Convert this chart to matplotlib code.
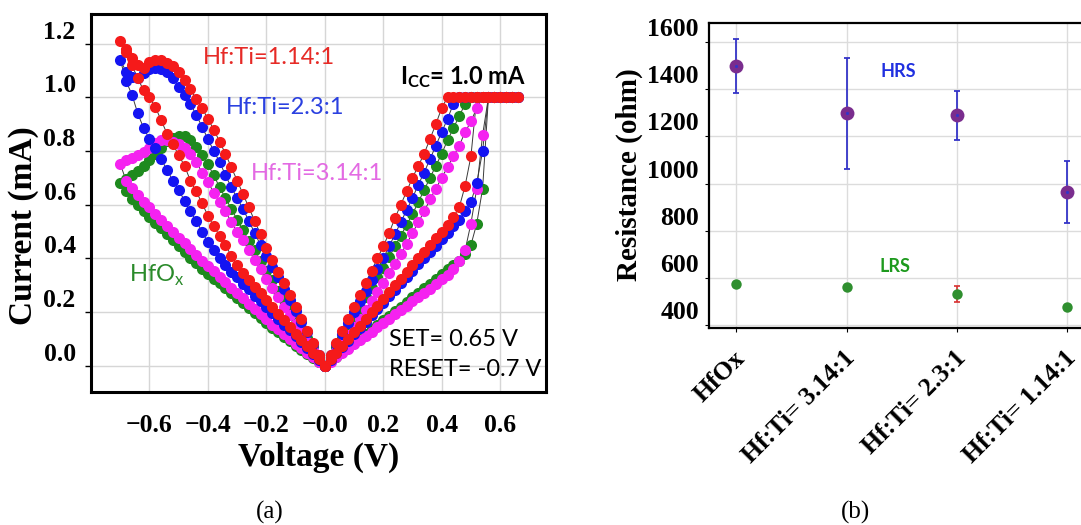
import matplotlib
matplotlib.use('Agg')
import matplotlib.pyplot as plt
import matplotlib.transforms as mtransforms

plt.rcParams['font.family'] = ['Liberation Serif', 'DejaVu Sans']

# ---------------- panel (a): I-V sweeps ----------------
# sweep voltages (V): 0 -> +0.66 -> 0 -> -0.70 -> 0
v_fwd_pos = [0.00, 0.02, 0.04, 0.06, 0.08, 0.10, 0.12, 0.14, 0.16, 0.18, 0.20, 0.22,
             0.24, 0.26, 0.28, 0.30, 0.32, 0.34, 0.36, 0.38, 0.40, 0.42, 0.44, 0.46,
             0.48, 0.50, 0.52, 0.54, 0.56, 0.58, 0.60, 0.62, 0.64, 0.66]
v_bwd_pos = [0.64, 0.62, 0.60, 0.58, 0.56, 0.54, 0.52, 0.50, 0.48, 0.46, 0.44, 0.42,
             0.40, 0.38, 0.36, 0.34, 0.32, 0.30, 0.28, 0.26, 0.24, 0.22, 0.20, 0.18,
             0.16, 0.14, 0.12, 0.10, 0.08, 0.06, 0.04, 0.02, 0.00]
v_fwd_neg = [-0.02, -0.04, -0.06, -0.08, -0.10, -0.12, -0.14, -0.16, -0.18, -0.20,
             -0.22, -0.24, -0.26, -0.28, -0.30, -0.32, -0.34, -0.36, -0.38, -0.40,
             -0.42, -0.44, -0.46, -0.48, -0.50, -0.52, -0.54, -0.56, -0.58, -0.60,
             -0.62, -0.64, -0.66, -0.68, -0.70]
v_bwd_neg = [-0.68, -0.66, -0.64, -0.62, -0.60, -0.58, -0.56, -0.54, -0.52, -0.50,
             -0.48, -0.46, -0.44, -0.42, -0.40, -0.38, -0.36, -0.34, -0.32, -0.30,
             -0.28, -0.26, -0.24, -0.22, -0.20, -0.18, -0.16, -0.14, -0.12, -0.10,
             -0.08, -0.06, -0.04, -0.02, 0.00]

# currents (mA, absolute value)
# HfOx (green)
g_fwd_pos = [0, 0.017, 0.034, 0.051, 0.068, 0.085, 0.102, 0.119, 0.136, 0.153, 0.17,
             0.187, 0.204, 0.221, 0.238, 0.255, 0.272, 0.289, 0.306, 0.324, 0.342,
             0.36, 0.375, 0.392, 0.415, 0.45, 0.53, 0.66, 1.0, 1.0, 1.0, 1.0, 1.0, 1.0]
g_bwd_pos = [1.0, 1.0, 1.0, 1.0, 1.0, 1.0, 1.0, 1.0, 0.975, 0.93, 0.885, 0.84, 0.79,
             0.745, 0.70, 0.655, 0.61, 0.565, 0.525, 0.485, 0.445, 0.405, 0.365, 0.33,
             0.29, 0.255, 0.215, 0.18, 0.145, 0.105, 0.07, 0.035, 0.0]
g_fwd_neg = [0.035, 0.07, 0.105, 0.14, 0.175, 0.21, 0.245, 0.28, 0.32, 0.355,
             0.39, 0.43, 0.465, 0.505, 0.545, 0.585, 0.625, 0.665, 0.71, 0.75,
             0.785, 0.815, 0.84, 0.855, 0.855, 0.85, 0.838, 0.81, 0.79, 0.768,
             0.745, 0.725, 0.71, 0.695, 0.68]
g_bwd_neg = [0.65, 0.62, 0.598, 0.575, 0.553, 0.533, 0.512, 0.49, 0.468, 0.446,
             0.424, 0.402, 0.382, 0.362, 0.343, 0.325, 0.307, 0.289, 0.27, 0.252,
             0.234, 0.216, 0.196, 0.177, 0.16, 0.142, 0.125, 0.108, 0.092, 0.076,
             0.06, 0.045, 0.03, 0.015, 0.0]
# Hf:Ti = 3.14:1 (magenta)
m_fwd_pos = [0, 0.016, 0.032, 0.048, 0.064, 0.08, 0.096, 0.112, 0.128, 0.144, 0.16,
             0.176, 0.192, 0.208, 0.224, 0.24, 0.256, 0.272, 0.288, 0.305, 0.322,
             0.34, 0.362, 0.39, 0.43, 0.53, 0.66, 0.86, 1.0, 1.0, 1.0, 1.0, 1.0, 1.0]
m_bwd_pos = [1.0, 1.0, 1.0, 1.0, 1.0, 1.0, 0.96, 0.91, 0.87, 0.82, 0.78, 0.74, 0.70,
             0.66, 0.62, 0.575, 0.535, 0.495, 0.455, 0.415, 0.38, 0.345, 0.31, 0.275,
             0.24, 0.21, 0.175, 0.145, 0.115, 0.085, 0.055, 0.03, 0.0]
m_fwd_neg = [0.03, 0.06, 0.09, 0.125, 0.155, 0.19, 0.22, 0.255, 0.29, 0.325,
             0.36, 0.395, 0.43, 0.468, 0.50, 0.536, 0.575, 0.61, 0.645, 0.685,
             0.72, 0.76, 0.79, 0.812, 0.826, 0.835, 0.84, 0.84, 0.83, 0.81,
             0.797, 0.787, 0.775, 0.765, 0.752]
m_bwd_neg = [0.69, 0.662, 0.636, 0.612, 0.59, 0.567, 0.545, 0.522, 0.50, 0.478,
             0.456, 0.434, 0.413, 0.392, 0.372, 0.352, 0.332, 0.312, 0.292, 0.272,
             0.252, 0.232, 0.212, 0.192, 0.173, 0.154, 0.136, 0.118, 0.10, 0.082,
             0.065, 0.048, 0.032, 0.016, 0.0]
# Hf:Ti = 2.3:1 (blue)
b_fwd_pos = [0, 0.024, 0.047, 0.071, 0.094, 0.118, 0.142, 0.165, 0.189, 0.212, 0.236,
             0.26, 0.283, 0.307, 0.33, 0.354, 0.378, 0.401, 0.425, 0.448, 0.472,
             0.495, 0.52, 0.545, 0.575, 0.61, 0.68, 0.80, 1.0, 1.0, 1.0, 1.0, 1.0, 1.0]
b_bwd_pos = [1.0, 1.0, 1.0, 1.0, 1.0, 1.0, 1.0, 1.0, 1.0, 1.0, 0.975, 0.92, 0.87,
             0.82, 0.77, 0.72, 0.675, 0.625, 0.58, 0.535, 0.49, 0.445, 0.40, 0.36,
             0.32, 0.28, 0.24, 0.20, 0.16, 0.12, 0.08, 0.04, 0.0]
b_fwd_neg = [0.04, 0.08, 0.125, 0.165, 0.205, 0.245, 0.285, 0.33, 0.37, 0.41,
             0.45, 0.495, 0.54, 0.585, 0.625, 0.665, 0.71, 0.76, 0.80, 0.845,
             0.89, 0.935, 0.975, 1.01, 1.04, 1.07, 1.095, 1.105, 1.11, 1.105,
             1.09, 1.07, 1.075, 1.095, 1.14]
b_bwd_neg = [1.06, 1.01, 0.94, 0.885, 0.845, 0.81, 0.77, 0.73, 0.69, 0.655,
             0.615, 0.575, 0.54, 0.50, 0.46, 0.43, 0.40, 0.375, 0.35, 0.33,
             0.305, 0.285, 0.262, 0.24, 0.22, 0.198, 0.176, 0.154, 0.132, 0.11,
             0.088, 0.066, 0.044, 0.022, 0.0]
# Hf:Ti = 1.14:1 (red)
r_fwd_pos = [0, 0.025, 0.05, 0.075, 0.10, 0.125, 0.15, 0.175, 0.20, 0.225, 0.25,
             0.275, 0.30, 0.325, 0.35, 0.375, 0.40, 0.425, 0.45, 0.475, 0.50,
             0.525, 0.555, 0.59, 0.67, 0.78, 1.0, 1.0, 1.0, 1.0, 1.0, 1.0, 1.0, 1.0]
r_bwd_pos = [1.0, 1.0, 1.0, 1.0, 1.0, 1.0, 1.0, 1.0, 1.0, 1.0, 1.0, 1.0, 0.96,
             0.90, 0.845, 0.79, 0.745, 0.70, 0.65, 0.60, 0.55, 0.495, 0.445, 0.40,
             0.355, 0.31, 0.265, 0.22, 0.175, 0.13, 0.085, 0.04, 0.0]
r_fwd_neg = [0.04, 0.085, 0.13, 0.175, 0.22, 0.265, 0.31, 0.35, 0.395, 0.44,
             0.49, 0.54, 0.59, 0.64, 0.69, 0.74, 0.79, 0.835, 0.88, 0.92,
             0.96, 0.995, 1.03, 1.065, 1.095, 1.115, 1.128, 1.138, 1.138, 1.13,
             1.11, 1.12, 1.145, 1.17, 1.21]
r_bwd_neg = [1.18, 1.12, 1.07, 1.026, 1.0, 0.964, 0.915, 0.865, 0.825, 0.785,
             0.745, 0.69, 0.65, 0.605, 0.56, 0.52, 0.485, 0.45, 0.41, 0.375,
             0.345, 0.32, 0.295, 0.27, 0.245, 0.22, 0.195, 0.17, 0.145, 0.12,
             0.095, 0.075, 0.05, 0.025, 0.0]

x_ticks_a = [-0.6, -0.4, -0.2, 0.0, 0.2, 0.4, 0.6]
x_labels_a = ['\u22120.6', '\u22120.4', '\u22120.2', '\u22120.0', '0.2', '0.4', '0.6']
y_ticks_a = [0.0, 0.2, 0.4, 0.6, 0.8, 1.0, 1.2]
y_labels_a = ['0.0', '0.2', '0.4', '0.6', '0.8', '1.0', '1.2']

# ---------------- panel (b): resistance ----------------
samples = ['HfOx', 'Hf:Ti= 3.14:1', 'Hf:Ti= 2.3:1', 'Hf:Ti= 1.14:1']
hrs = [1500, 1298, 1290, 964]
hrs_err = [114, 237, 103, 130]
lrs = [574, 562, 531, 475]
lrs_err = [0, 0, 35, 0]
y_ticks_b = [400, 600, 800, 1000, 1200, 1400, 1600]

fig = plt.figure(figsize=(10.81, 5.25), dpi=100)
ax1 = fig.add_axes([0.0842, 0.2533, 0.4209, 0.72])
ax2 = fig.add_axes([0.6562, 0.3747, 0.3559, 0.5821])


def shift(labels, dx_px, dy_px):
    off = mtransforms.ScaledTranslation(dx_px / 100.0, dy_px / 100.0, fig.dpi_scale_trans)
    for lab in labels:
        lab.set_transform(lab.get_transform() + off)


sweeps = [
    (g_fwd_pos, g_bwd_pos, g_fwd_neg, g_bwd_neg, '#1e8a1e'),
    (m_fwd_pos, m_bwd_pos, m_fwd_neg, m_bwd_neg, '#f522f0'),
    (b_fwd_pos, b_bwd_pos, b_fwd_neg, b_bwd_neg, '#1414f2'),
    (r_fwd_pos, r_bwd_pos, r_fwd_neg, r_bwd_neg, '#f51a1a'),
]
v_all = v_fwd_pos + v_bwd_pos + v_fwd_neg + v_bwd_neg
for fp, bp, fn, bn, col in sweeps:
    cur = fp + bp + fn + bn
    ax1.plot(v_all, cur, '-', color='#3a3a3a', lw=0.7, zorder=2)
    ax1.plot(v_all, cur, 'o', color=col, ms=8, mec='none', zorder=3)

ax1.set_xlim(-0.80, 0.757)
ax1.set_ylim(-0.097, 1.31)
ax1.set_xticks(x_ticks_a)
ax1.set_xticklabels(x_labels_a, fontsize=18.5, fontweight='bold')
ax1.set_yticks(y_ticks_a)
ax1.set_yticklabels(y_labels_a, fontsize=18.5, fontweight='bold')
ax1.tick_params(axis='x', length=0, pad=16)
ax1.tick_params(axis='y', direction='out', length=4, width=1, pad=7)
shift(ax1.get_yticklabels(), 0, 14)
ax1.grid(True, color='#d6d6d6', lw=1.0)
ax1.set_axisbelow(True)
for sp in ax1.spines.values():
    sp.set_linewidth(2.2)

ann = dict(family='Lato', fontsize=17, va='center', ha='left')
ax1.text(-0.418, 1.149, 'Hf:Ti=1.14:1', color='#e62a26', **ann)
ax1.text(-0.339, 0.963, 'Hf:Ti=2.3:1', color='#2a40e0', **ann)
ax1.text(-0.253, 0.717, 'Hf:Ti=3.14:1', color='#e36ae3', **ann)
ax1.text(-0.671, 0.338, r'HfO$_\mathregular{x}$', color='#2a8a2a', **ann)
ax1.text(0.257, 1.074, r'$\mathregular{I_{CC}}$= 1.0 mA', color='black',
         fontweight='bold', **ann)
ax1.text(0.219, 0.097, 'SET= 0.65 V', color='black', **ann)
ax1.text(0.219, -0.015, 'RESET= -0.7 V', color='black', **ann)

fig.text(24 / 1081, 1 - 226 / 525, 'Current (mA)', rotation=90, ha='center',
         va='center', fontsize=24, fontweight='bold')
fig.text(318.5 / 1081, 1 - 457 / 525, 'Voltage (V)', ha='center', va='center',
         fontsize=24, fontweight='bold')
fig.text(270 / 1081, 1 - 512 / 525, '(a)', ha='center', va='center', fontsize=18)

# panel (b)
xb = list(range(len(samples)))
ax2.errorbar(xb, hrs, yerr=hrs_err, fmt='none', ecolor='#3434c8', elinewidth=1.3,
             capsize=2.5, capthick=1.3, zorder=2)
ax2.plot(xb, hrs, 'o', color='#7a2d8e', ms=10, mec='none', zorder=3)
ax2.plot(xb, hrs, '.', color='#3434c8', ms=2.5, zorder=4)
ax2.errorbar(xb, lrs, yerr=lrs_err, fmt='none', ecolor='#d83030', elinewidth=1.2,
             capsize=2.5, capthick=1.2, zorder=2)
ax2.plot(xb, lrs, 'o', color='#2f8f2f', ms=7.5, mec='none', zorder=3)

ax2.set_xlim(-0.245, 3.245)
ax2.set_ylim(386, 1683)
ax2.set_xticks(xb)
ax2.set_xticklabels(samples, fontsize=18.5, fontweight='bold', rotation=45,
                    ha='right', va='top', rotation_mode='anchor')
ax2.set_yticks(y_ticks_b)
ax2.set_yticklabels([str(t) for t in y_ticks_b], fontsize=18.5, fontweight='bold')
ax2.tick_params(axis='x', direction='out', length=3, pad=10)
ax2.tick_params(axis='y', direction='out', length=3, pad=4.5)
shift(ax2.get_yticklabels(), 0, 15)
shift(ax2.get_xticklabels(), -3, 0)
ax2.grid(True, color='#dcdcdc', lw=1.0)
ax2.set_axisbelow(True)
for sp in ax2.spines.values():
    sp.set_linewidth(1.6)

ax2.text(1.306, 1474, 'HRS', family='Lato', fontweight='bold', fontsize=13,
         color='#2030e0', va='center', ha='left')
ax2.text(1.296, 650, 'LRS', family='Lato', fontweight='bold', fontsize=13,
         color='#1e9a1e', va='center', ha='left')

fig.text(629 / 1081, 1 - 175 / 525, 'Resistance (ohm)', rotation=90, ha='center',
         va='center', fontsize=21, fontweight='bold')
fig.text(855 / 1081, 1 - 512 / 525, '(b)', ha='center', va='center', fontsize=18)

fig.savefig('out.png', dpi=100)
